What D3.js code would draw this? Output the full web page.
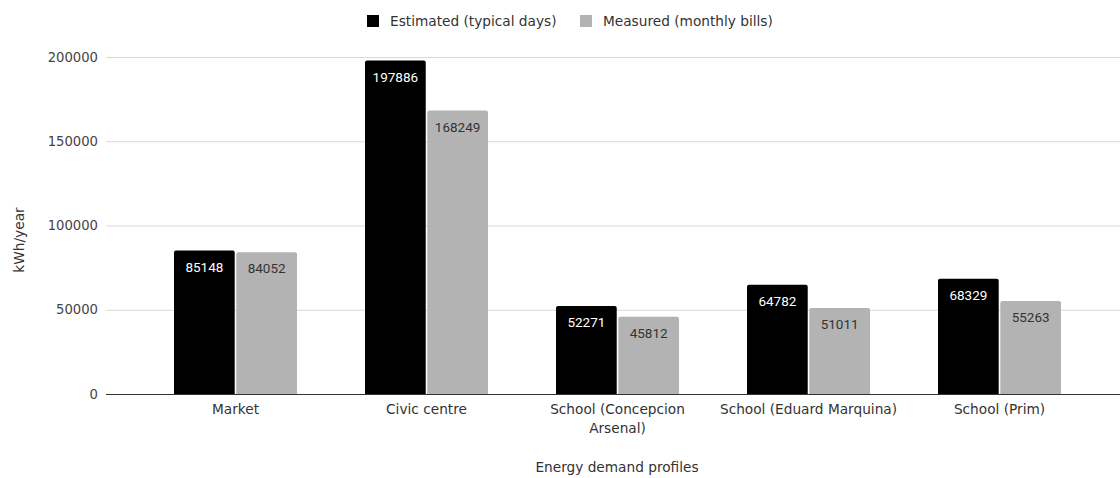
<!DOCTYPE html>
<html><head><meta charset="utf-8">
<script src="https://cdn.jsdelivr.net/npm/d3@7"></script>
<style>body{margin:0;background:#fff}svg{display:block}</style>
</head><body>
<script>
const categories = ["Market", "Civic centre", "School (Concepcion Arsenal)", "School (Eduard Marquina)", "School (Prim)"];
const categoryLines = [["Market"], ["Civic centre"], ["School (Concepcion", "Arsenal)"], ["School (Eduard Marquina)"], ["School (Prim)"]];
const seriesNames = ["Estimated (typical days)", "Measured (monthly bills)"];
const estimated = [85148, 197886, 52271, 64782, 68329];
const measured = [84052, 168249, 45812, 51011, 55263];
const yTicks = [0, 50000, 100000, 150000, 200000];
const colors = ["#000000", "#b3b3b3"];
const labelColors = ["#ffffff", "#333333"];

const W = 1120, H = 478;
const svg = d3.select("body").append("svg").attr("width", W).attr("height", H);
const font = "'DejaVu Sans', Verdana, sans-serif";
const fs = 13.7;

const y = d3.scaleLinear().domain([0, 200000]).range([394, 57]);
const x = d3.scaleBand().domain(categories).range([140, 1095]).paddingInner(0.356).paddingOuter(0.178);
const xs = d3.scaleBand().domain([0, 1]).range([0, x.bandwidth()]).paddingInner(0.025);

// gridlines
svg.append("g").selectAll("line").data(yTicks.filter(d => d > 0)).join("line")
  .attr("x1", 106).attr("x2", W).attr("y1", d => y(d) + 0.5).attr("y2", d => y(d) + 0.5)
  .attr("stroke", "#d9d9d9").attr("stroke-width", 1);

// y axis labels
svg.append("g").selectAll("text").data(yTicks).join("text")
  .attr("x", 98).attr("y", d => y(d)).attr("dy", "0.35em").attr("text-anchor", "end")
  .attr("font-family", font).attr("font-size", 13.2).attr("fill", "#444").text(d => d);

// bars
const series = [estimated, measured];
series.forEach((vals, si) => {
  const g = svg.append("g");
  g.selectAll("path").data(vals).join("path")
    .attr("d", (d, i) => {
      const x0 = x(categories[i]) + xs(si), w = xs.bandwidth(), y0 = y(d), y1 = y(0), r = 2;
      return `M${x0},${y1}V${y0 + r}Q${x0},${y0} ${x0 + r},${y0}H${x0 + w - r}Q${x0 + w},${y0} ${x0 + w},${y0 + r}V${y1}Z`;
    })
    .attr("fill", colors[si]);
  g.selectAll("text").data(vals).join("text")
    .attr("x", (d, i) => x(categories[i]) + xs(si) + xs.bandwidth() / 2)
    .attr("y", d => y(d) + 21).attr("text-anchor", "middle")
    .attr("font-family", "Roboto, sans-serif").attr("font-size", 13.5)
    .attr("fill", labelColors[si]).text(d => d);
});

// baseline
svg.append("line").attr("x1", 106).attr("x2", W).attr("y1", y(0) + 0.5).attr("y2", y(0) + 0.5)
  .attr("stroke", "#333").attr("stroke-width", 1);

// x labels
const xl = svg.append("g").selectAll("text").data(categories).join("text")
  .attr("text-anchor", "middle").attr("font-family", font).attr("font-size", fs).attr("fill", "#333")
  .attr("x", d => x(d) + x.bandwidth() / 2).attr("y", 414);
xl.each(function(d, i) {
  d3.select(this).selectAll("tspan").data(categoryLines[i]).join("tspan")
    .attr("x", x(d) + x.bandwidth() / 2).attr("dy", (t, j) => j ? 19 : 0).text(t => t);
});

// axis titles
svg.append("text").attr("x", 617).attr("y", 472).attr("text-anchor", "middle")
  .attr("font-family", font).attr("font-size", fs).attr("fill", "#333").text("Energy demand profiles");
svg.append("text").attr("transform", "translate(19,240) rotate(-90)").attr("text-anchor", "middle")
  .attr("dy", "0.35em").attr("font-family", font).attr("font-size", fs).attr("fill", "#333").text("kWh/year");

// legend
const legX = [367, 580];
const lg = svg.append("g");
seriesNames.forEach((n, i) => {
  lg.append("rect").attr("x", legX[i]).attr("y", 15).attr("width", 12).attr("height", 12).attr("fill", colors[i]);
  lg.append("text").attr("x", legX[i] + 23).attr("y", 21).attr("dy", "0.35em")
    .attr("font-family", font).attr("font-size", fs).attr("fill", "#333").text(n);
});
</script>
</body></html>
